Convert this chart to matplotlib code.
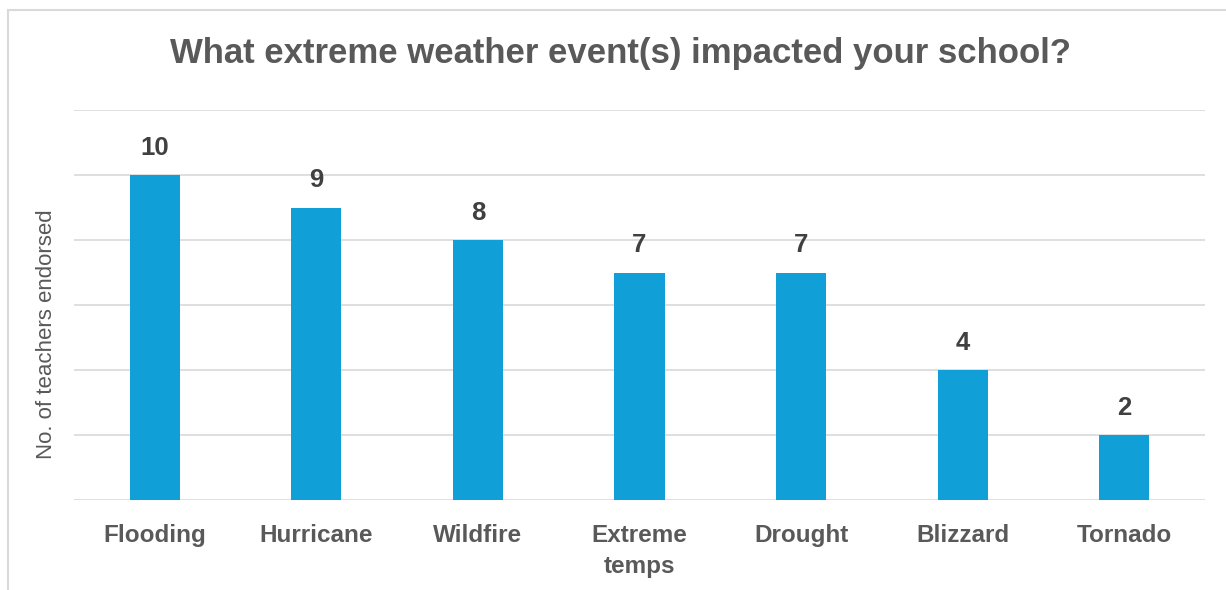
import matplotlib.pyplot as plt
from matplotlib.patches import Rectangle

# Survey counts
events = ['Flooding', 'Hurricane', 'Wildfire', 'Extreme\ntemps', 'Drought', 'Blizzard', 'Tornado']
counts = [10, 9, 8, 7, 7, 4, 2]
y_ticks = [0, 2, 4, 6, 8, 10, 12]

bar_color = '#119FD7'
grid_color = '#D9D9D9'
text_gray = '#595959'
label_dark = '#404040'

plt.rcParams['font.family'] = ['Liberation Sans', 'DejaVu Sans']

fig = plt.figure(figsize=(12.26, 5.9), dpi=100)
ax = fig.add_axes([74 / 1226, 1 - 500 / 590, (1205 - 74) / 1226, 390 / 590])

x = range(len(events))
bars = ax.bar(x, counts, width=0.31, color=bar_color, zorder=3)

for xi, v in zip(x, counts):
    ax.annotate(str(v), (xi, v), xytext=(0, 11), textcoords='offset points',
                ha='center', va='bottom', fontsize=18.5, fontweight='bold', color=label_dark)

ax.set_xlim(-0.5, len(events) - 0.5)
ax.set_ylim(0, 12)
ax.set_yticks(y_ticks)
ax.set_yticklabels([])
ax.tick_params(axis='y', length=0)
ax.tick_params(axis='x', length=0, pad=17)
ax.set_xticks(list(x))
ax.set_xticklabels(events, fontsize=17.5, fontweight='bold', color=text_gray, linespacing=1.45)
ax.grid(True, axis='y', color=grid_color, linewidth=1.2, zorder=0)
for s in ax.spines.values():
    s.set_visible(False)

fig.text(47 / 1226, 1 - 334 / 590, 'No. of teachers endorsed', rotation=90,
         ha='center', va='center', fontsize=16, color=text_gray)
fig.text(620 / 1226, 1 - 53 / 590, 'What extreme weather event(s) impacted your school?',
         ha='center', va='center', fontsize=25, fontweight='bold', color=text_gray)

# light chart-area border (bottom and right run off the image)
fig.patches.append(Rectangle((8 / 1226, -0.1), 1.2, 1 - 10 / 590 + 0.1,
                             transform=fig.transFigure, fill=False,
                             edgecolor='#D9D9D9', linewidth=1.5))

fig.savefig('out.png', dpi=100)
